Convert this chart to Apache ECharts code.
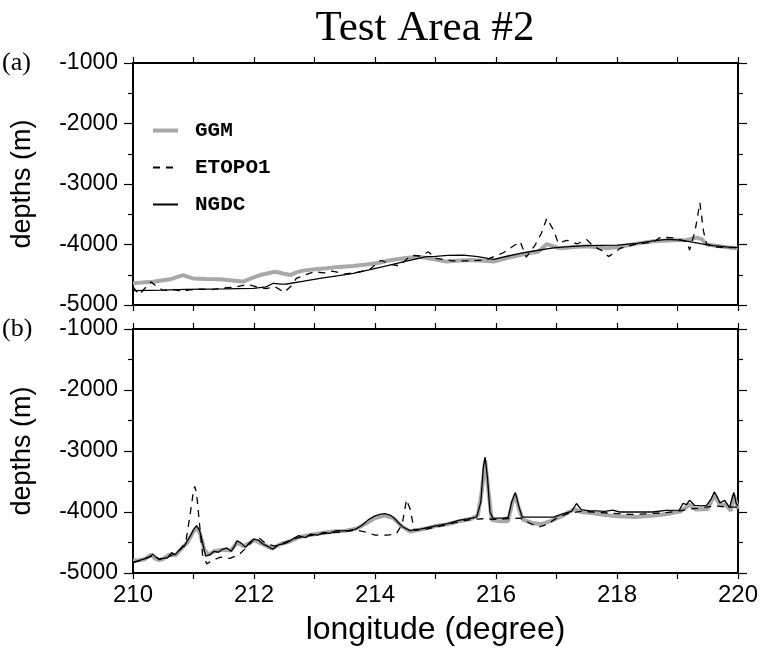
<!DOCTYPE html>
<html>
<head>
<meta charset="utf-8">
<script src="https://cdn.jsdelivr.net/npm/echarts@6/dist/echarts.min.js"></script>
<style>html,body{margin:0;padding:0;background:#fff}#c{width:761px;height:653px}</style>
</head>
<body>
<div id="c"></div>
<script>
// ---- data: [longitude, depth] ----
var seriesNames = ['GGM', 'ETOPO1', 'NGDC'];
var xTicks = [210, 212, 214, 216, 218, 220];
var yTicks = [-1000, -2000, -3000, -4000, -5000];

var aGGM = [[210.0,-4640],[210.15,-4630],[210.33,-4615],[210.5,-4590],[210.61,-4575],[210.75,-4530],[210.83,-4505],[210.92,-4540],[211.0,-4560],[211.2,-4570],[211.44,-4575],[211.6,-4590],[211.82,-4612],[211.95,-4560],[212.1,-4505],[212.25,-4470],[212.35,-4450],[212.48,-4480],[212.6,-4505],[212.7,-4460],[212.81,-4432],[213.0,-4410],[213.2,-4393],[213.4,-4370],[213.64,-4355],[213.85,-4330],[214.08,-4300],[214.2,-4270],[214.36,-4245],[214.55,-4220],[214.74,-4205],[214.96,-4240],[215.18,-4283],[215.4,-4265],[215.57,-4256],[215.8,-4270],[215.96,-4283],[216.2,-4220],[216.4,-4174],[216.55,-4140],[216.7,-4120],[216.84,-3992],[216.95,-4030],[217.06,-4063],[217.3,-4040],[217.5,-4028],[217.7,-4050],[217.83,-4063],[218.06,-4038],[218.3,-3990],[218.6,-3945],[218.93,-3928],[219.15,-3925],[219.32,-3886],[219.4,-3910],[219.48,-4000],[219.7,-4030],[219.85,-4050],[220.0,-4060]];

var aETOPO1 = [[210.0,-4700],[210.1,-4830],[210.2,-4720],[210.3,-4620],[210.4,-4700],[210.5,-4760],[210.65,-4740],[210.8,-4770],[210.95,-4750],[211.1,-4740],[211.3,-4745],[211.5,-4720],[211.7,-4700],[211.9,-4660],[212.05,-4700],[212.2,-4730],[212.35,-4700],[212.5,-4790],[212.6,-4700],[212.7,-4560],[212.85,-4500],[213.0,-4450],[213.15,-4470],[213.3,-4440],[213.5,-4490],[213.7,-4460],[213.9,-4420],[214.1,-4260],[214.25,-4330],[214.4,-4350],[214.6,-4180],[214.75,-4190],[214.88,-4120],[215.01,-4230],[215.29,-4270],[215.6,-4270],[215.85,-4250],[216.12,-4136],[216.25,-4050],[216.4,-3953],[216.5,-4210],[216.64,-4020],[216.75,-3815],[216.84,-3567],[216.95,-3760],[217.03,-3980],[217.17,-3930],[217.34,-3990],[217.5,-3920],[217.61,-4030],[217.75,-4100],[217.86,-4200],[218.06,-4060],[218.33,-3990],[218.6,-3960],[218.72,-3880],[218.93,-3890],[219.15,-3950],[219.2,-4090],[219.29,-3780],[219.37,-3310],[219.43,-3780],[219.48,-3990],[219.59,-4040],[219.8,-4050],[220.0,-4053]];

var aNGDC = [[210.0,-4763],[210.5,-4755],[210.87,-4741],[211.5,-4735],[211.99,-4724],[212.2,-4700],[212.32,-4641],[212.45,-4655],[212.54,-4653],[212.8,-4610],[213.09,-4559],[213.4,-4515],[213.64,-4476],[213.9,-4420],[214.19,-4355],[214.5,-4280],[214.85,-4201],[215.0,-4195],[215.2,-4180],[215.46,-4174],[215.7,-4200],[215.96,-4245],[216.2,-4190],[216.4,-4146],[216.7,-4095],[216.95,-4055],[217.2,-4035],[217.5,-4020],[218.0,-4009],[218.33,-3980],[218.6,-3940],[218.82,-3914],[219.0,-3925],[219.15,-3945],[219.4,-3990],[219.59,-4020],[219.8,-4040],[220.0,-4053]];

var bGGM = [[210.0,-4800],[210.1,-4790],[210.2,-4770],[210.3,-4700],[210.36,-4760],[210.43,-4790],[210.5,-4770],[210.6,-4700],[210.7,-4710],[210.8,-4600],[210.9,-4500],[211.0,-4320],[211.05,-4260],[211.1,-4330],[211.18,-4620],[211.25,-4700],[211.35,-4640],[211.5,-4620],[211.62,-4630],[211.72,-4500],[211.82,-4560],[211.93,-4510],[212.0,-4460],[212.15,-4530],[212.3,-4600],[212.45,-4520],[212.6,-4480],[212.75,-4410],[212.9,-4380],[213.1,-4350],[213.3,-4320],[213.5,-4310],[213.7,-4270],[213.85,-4190],[214.0,-4100],[214.16,-4060],[214.3,-4100],[214.45,-4240],[214.58,-4320],[214.8,-4280],[215.0,-4230],[215.2,-4200],[215.4,-4150],[215.6,-4110],[215.7,-4050],[215.76,-3700],[215.82,-3150],[215.88,-3700],[215.93,-4130],[216.05,-4150],[216.2,-4150],[216.27,-3850],[216.32,-3720],[216.38,-3950],[216.45,-4130],[216.6,-4180],[216.75,-4200],[216.9,-4150],[217.1,-4060],[217.3,-3950],[217.4,-4000],[217.6,-4020],[217.8,-4050],[218.0,-4070],[218.3,-4080],[218.6,-4060],[218.85,-4030],[219.05,-3990],[219.2,-3880],[219.3,-3960],[219.5,-3950],[219.61,-3720],[219.7,-3880],[219.8,-3880],[219.88,-3980],[219.93,-3720],[220.0,-3950]];

var bETOPO1 = [[210.0,-4830],[210.1,-4800],[210.2,-4760],[210.29,-4730],[210.36,-4700],[210.43,-4780],[210.5,-4760],[210.6,-4730],[210.7,-4680],[210.8,-4600],[210.88,-4450],[210.95,-4000],[211.0,-3650],[211.02,-3580],[211.05,-3680],[211.1,-4200],[211.15,-4700],[211.22,-4850],[211.3,-4800],[211.45,-4740],[211.6,-4760],[211.75,-4700],[211.9,-4560],[212.0,-4440],[212.07,-4420],[212.2,-4520],[212.35,-4560],[212.5,-4500],[212.7,-4430],[212.9,-4390],[213.1,-4360],[213.3,-4340],[213.5,-4320],[213.7,-4300],[213.85,-4330],[214.0,-4380],[214.2,-4380],[214.35,-4360],[214.45,-4200],[214.52,-3800],[214.58,-3950],[214.65,-4300],[214.8,-4290],[215.0,-4250],[215.3,-4180],[215.6,-4120],[215.8,-4110],[216.0,-4120],[216.2,-4110],[216.4,-4100],[216.55,-4180],[216.7,-4250],[216.85,-4200],[217.0,-4100],[217.2,-4020],[217.4,-3990],[217.6,-4000],[217.9,-4020],[218.2,-4040],[218.5,-4030],[218.8,-4010],[219.0,-3990],[219.2,-3950],[219.4,-3930],[219.6,-3900],[219.8,-3920],[220.0,-3920]];

var bNGDC = [[210.0,-4822],[210.08,-4800],[210.15,-4780],[210.22,-4760],[210.29,-4722],[210.33,-4690],[210.38,-4740],[210.43,-4770],[210.5,-4760],[210.57,-4750],[210.64,-4667],[210.7,-4700],[210.75,-4640],[210.8,-4590],[210.85,-4556],[210.9,-4470],[210.95,-4389],[211.0,-4290],[211.05,-4222],[211.1,-4300],[211.13,-4420],[211.2,-4722],[211.27,-4700],[211.34,-4645],[211.41,-4660],[211.48,-4611],[211.55,-4590],[211.62,-4645],[211.68,-4560],[211.72,-4472],[211.79,-4510],[211.86,-4580],[211.93,-4500],[212.0,-4444],[212.07,-4460],[212.14,-4520],[212.22,-4560],[212.31,-4611],[212.4,-4540],[212.52,-4515],[212.6,-4470],[212.73,-4389],[212.85,-4420],[212.94,-4361],[213.05,-4380],[213.15,-4333],[213.25,-4350],[213.36,-4305],[213.47,-4310],[213.57,-4300],[213.68,-4280],[213.78,-4222],[213.9,-4120],[213.99,-4067],[214.08,-4040],[214.16,-4028],[214.25,-4050],[214.33,-4110],[214.4,-4190],[214.47,-4250],[214.58,-4306],[214.66,-4290],[214.75,-4280],[214.9,-4250],[215.03,-4222],[215.2,-4190],[215.38,-4139],[215.55,-4110],[215.68,-4083],[215.75,-3833],[215.79,-3278],[215.82,-3100],[215.86,-3444],[215.9,-4000],[215.95,-4100],[216.1,-4100],[216.2,-4090],[216.26,-3833],[216.32,-3678],[216.37,-3880],[216.43,-4083],[216.7,-4083],[216.95,-4083],[217.1,-4030],[217.25,-3990],[217.33,-3861],[217.41,-3960],[217.55,-3980],[217.66,-3980],[217.8,-3990],[217.93,-3970],[218.04,-4000],[218.3,-4000],[218.59,-4000],[218.81,-3975],[219.03,-3970],[219.09,-3860],[219.15,-3880],[219.2,-3806],[219.28,-3890],[219.4,-3900],[219.48,-3890],[219.56,-3780],[219.61,-3667],[219.66,-3760],[219.7,-3850],[219.78,-3810],[219.86,-3930],[219.93,-3678],[219.97,-3860],[220.0,-3900]];

// ---- chart ----
var SANS = 'Liberation Sans, Arial, Helvetica, sans-serif';
var SERIF = 'Liberation Serif, Times New Roman, serif';
var MONO = 'Liberation Mono, Courier New, monospace';
var black = '#000';

function xAxis(grid, pos, labels) {
  return {
    type: 'value', gridIndex: grid, position: pos, min: 210, max: 220, interval: 1,
    axisLine: { show: true, onZero: false, lineStyle: { color: black, width: 2 } },
    axisTick: { show: true, inside: false, length: 6, lineStyle: { color: black, width: 1.2 } },
    axisLabel: labels ? {
      show: true, margin: 10, color: black, fontFamily: SANS, fontSize: 24,
      formatter: function (v) { return xTicks.indexOf(v) >= 0 ? String(v) : ''; }
    } : { show: false },
    splitLine: { show: false },
    name: labels ? 'longitude (degree)' : '', nameLocation: 'middle', nameGap: 41,
    nameTextStyle: { color: black, fontFamily: SANS, fontSize: 32 }
  };
}
function yAxis(grid, pos, labels) {
  return {
    type: 'value', gridIndex: grid, position: pos, min: -5000, max: -1000, interval: 1000,
    axisLine: { show: true, onZero: false, lineStyle: { color: black, width: 2 } },
    axisTick: { show: true, inside: false, length: 9, lineStyle: { color: black, width: 1.2 } },
    minorTick: { show: true, splitNumber: 2, length: 5, lineStyle: { color: black, width: 1.2 } },
    axisLabel: labels ? {
      show: true, margin: 15, color: black, fontFamily: SANS, fontSize: 23,
      formatter: function (v) { return yTicks.indexOf(v) >= 0 ? String(v) : ''; }
    } : { show: false },
    splitLine: { show: false },
    name: labels ? 'depths (m)' : '', nameLocation: 'middle', nameGap: 97,
    nameTextStyle: { color: black, fontFamily: SANS, fontSize: 27 }
  };
}
function line(name, data, xi, yi) {
  var style;
  if (name === 'GGM') style = { color: '#a8a8a8', width: 4, type: 'solid' };
  else if (name === 'ETOPO1') style = { color: black, width: 1.3, type: [7, 6] };
  else style = { color: black, width: 1.3, type: 'solid' };
  return {
    name: name, type: 'line', xAxisIndex: xi, yAxisIndex: yi, data: data,
    symbol: 'none', showSymbol: false, smooth: false, lineStyle: style,
    itemStyle: { color: style.color }, z: name === 'GGM' ? 2 : (name === 'ETOPO1' ? 3 : 4)
  };
}

var chart = echarts.init(document.getElementById('c'), null, { renderer: 'canvas' });
chart.setOption({
  animation: false,
  backgroundColor: '#fff',
  grid: [
    { left: 133, top: 63, width: 605, height: 242, containLabel: false, outerBoundsMode: 'none' },
    { left: 133, top: 329, width: 605, height: 244, containLabel: false, outerBoundsMode: 'none' }
  ],
  xAxis: [xAxis(0, 'bottom', false), xAxis(0, 'top', false), xAxis(1, 'bottom', true), xAxis(1, 'top', false)],
  yAxis: [yAxis(0, 'left', true), yAxis(0, 'right', false), yAxis(1, 'left', true), yAxis(1, 'right', false)],
  legend: {
    data: [
      { name: seriesNames[0], lineStyle: { width: 4, color: '#a8a8a8' } },
      { name: seriesNames[1] },
      { name: seriesNames[2] }
    ],
    orient: 'vertical', left: 151, top: 120, padding: 0,
    itemWidth: 25, itemHeight: 14, itemGap: 16, selectedMode: false,
    itemStyle: { opacity: 0 },
    textStyle: { color: black, fontFamily: MONO, fontWeight: 'bold', fontSize: 21, padding: [0, 0, 0, 12] }
  },
  graphic: [
    { type: 'text', x: 425, y: 29, style: { text: 'Test Area #2', font: '43px ' + SERIF, fill: black, align: 'center', verticalAlign: 'middle' } },
    { type: 'text', x: 2, y: 63, style: { text: '(a)', font: '26px ' + SERIF, fill: black, verticalAlign: 'middle' } },
    { type: 'text', x: 2, y: 329, style: { text: '(b)', font: '26px ' + SERIF, fill: black, verticalAlign: 'middle' } }
  ],
  series: [
    line('GGM', aGGM, 0, 0), line('ETOPO1', aETOPO1, 0, 0), line('NGDC', aNGDC, 0, 0),
    line('GGM', bGGM, 2, 2), line('ETOPO1', bETOPO1, 2, 2), line('NGDC', bNGDC, 2, 2)
  ]
});
</script>
</body>
</html>
